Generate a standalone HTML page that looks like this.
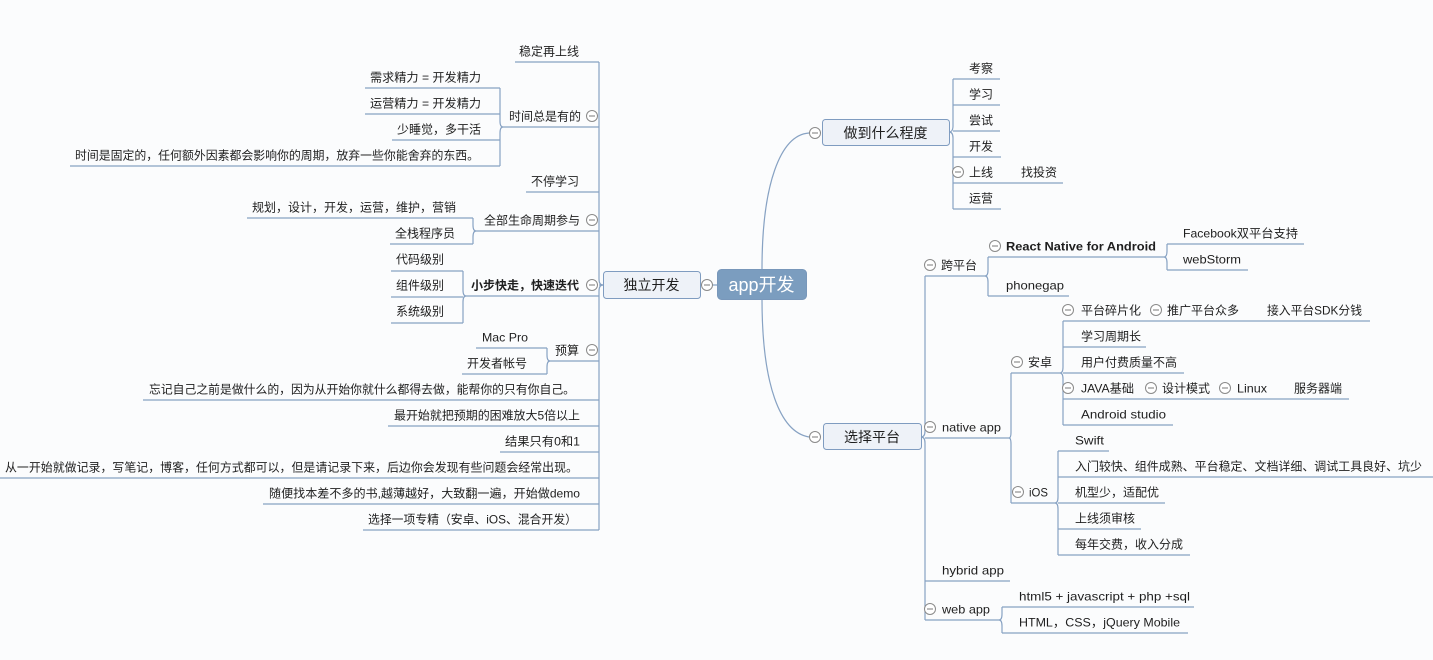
<!DOCTYPE html>
<html>
<head>
<meta charset="utf-8">
<style>
html,body{margin:0;padding:0;background:#fbfcfd;}
svg{display:block;}
text{font-family:"Liberation Sans","Noto Sans CJK SC",sans-serif;font-size:12px;fill:#1e1e1e;}
.ln{fill:none;stroke:#87a2c3;stroke-width:1.2;}
.c circle{fill:#fff;stroke:#8a8a8a;stroke-width:1;}
.c line{stroke:#7a7a7a;stroke-width:1;}
.b{font-weight:bold;}
</style>
</head>
<body>
<svg width="1433" height="660" viewBox="0 0 1433 660" xmlns="http://www.w3.org/2000/svg">
<rect width="1433" height="660" fill="#fbfcfd"/>

<!-- ===== connectors LEFT ===== -->
<g class="ln">
  <!-- main left trunk -->
  <path d="M599,62 L599,279 Q599,285 603,285 Q599,285 599,291 L599,530"/>
  <path d="M603,285 L599,285"/>
  <!-- level-2 underlines -->
  <path d="M515,62 H599"/>
  <path d="M503,127 H599"/>
  <path d="M526,192 H599"/>
  <path d="M476,231 H599"/>
  <path d="M466,296 H599"/>
  <path d="M550,361 H599"/>
  <path d="M143,400 H599"/>
  <path d="M388,426 H599"/>
  <path d="M500,452 H599"/>
  <path d="M0,478 H599"/>
  <path d="M263,504 H599"/>
  <path d="M363,530 H599"/>
  <!-- 时间总是有的 bracket -->
  <path d="M500,88 L500,121 Q500,127 503,127 Q500,127 500,133 L500,166"/>
  <path d="M365,88 H500"/>
  <path d="M365,114 H500"/>
  <path d="M392,140 H500"/>
  <path d="M70,166 H500"/>
  <!-- 全部生命周期参与 bracket -->
  <path d="M473,218 L473,225 Q473,231 476,231 Q473,231 473,237 L473,244"/>
  <path d="M247,218 H473"/>
  <path d="M390,244 H473"/>
  <!-- 小步快走 bracket -->
  <path d="M463,271 L463,290 Q463,296 466,296 Q463,296 463,302 L463,323"/>
  <path d="M391,271 H463"/>
  <path d="M391,297 H463"/>
  <path d="M391,323 H463"/>
  <!-- 预算 bracket -->
  <path d="M547,348 L547,355 Q547,361 550,361 Q547,361 547,367 L547,374"/>
  <path d="M476,348 H547"/>
  <path d="M462,374 H547"/>

  <!-- center links -->
  <path d="M700,285 H717"/>
  <path d="M762,269 C762,185 780,135 809,133"/>
  <path d="M762,299 C762,385 780,432 809,437"/>

  <!-- ===== RIGHT ===== -->
  <!-- 做到什么程度 trunk -->
  <path d="M953,79 L953,126 Q953,132 949,132 Q953,132 953,138 L953,209"/>
  <path d="M953,79 H1000"/>
  <path d="M953,105 H1000"/>
  <path d="M953,131 H1000"/>
  <path d="M953,157 H1001"/>
  <path d="M953,183 H1063"/>
  <path d="M953,209 H1001"/>

  <!-- 选择平台 trunk -->
  <path d="M925,276 L925,431 Q925,437 921,437 Q925,437 925,443 L925,620"/>
  <path d="M925,276 H985"/>
  <path d="M925,438 H1009"/>
  <path d="M925,581 H1010"/>
  <path d="M925,620 H999"/>

  <!-- 跨平台 bracket -->
  <path d="M988,257 L988,270 Q988,276 985,276 Q988,276 988,282 L988,296"/>
  <path d="M988,257 H1164"/>
  <path d="M988,296 H1069"/>
  <!-- RN bracket -->
  <path d="M1167,244 L1167,251 Q1167,257 1164,257 Q1167,257 1167,263 L1167,270"/>
  <path d="M1167,244 H1304"/>
  <path d="M1167,270 H1248"/>

  <!-- native app bracket -->
  <path d="M1011,373 L1011,432 Q1011,438 1009,438 Q1011,438 1011,444 L1011,503"/>
  <path d="M1011,373 H1060"/>
  <path d="M1011,503 H1055"/>

  <!-- 安卓 bracket -->
  <path d="M1063,321 L1063,367 Q1063,373 1060,373 Q1063,373 1063,379 L1063,425"/>
  <path d="M1063,321 H1370"/>
  <path d="M1063,347 H1146"/>
  <path d="M1063,373 H1184"/>
  <path d="M1063,399 H1349"/>
  <path d="M1063,425 H1173"/>

  <!-- iOS bracket -->
  <path d="M1058,451 L1058,497 Q1058,503 1055,503 Q1058,503 1058,509 L1058,555"/>
  <path d="M1058,451 H1109"/>
  <path d="M1058,477 H1433"/>
  <path d="M1058,503 H1165"/>
  <path d="M1058,529 H1141"/>
  <path d="M1058,555 H1190"/>

  <!-- web app bracket -->
  <path d="M1002,607 L1002,614 Q1002,620 999,620 Q1002,620 1002,626 L1002,633"/>
  <path d="M1002,607 H1194"/>
  <path d="M1002,633 H1188"/>
</g>

<!-- ===== nodes ===== -->
<rect x="717.5" y="269.5" width="89" height="30" rx="4" fill="#7b9dbf" stroke="#7897ba"/>
<text x="761.5" y="291" text-anchor="middle" style="font-size:18px;fill:#ffffff;">app开发</text>

<rect x="603.5" y="271.5" width="97" height="27" rx="3" fill="#eef2f8" stroke="#7f9cc0"/>
<text x="651.5" y="290" text-anchor="middle" style="font-size:14px;">独立开发</text>

<rect x="822.5" y="119.5" width="127" height="26" rx="3" fill="#eef2f8" stroke="#7f9cc0"/>
<text x="885.5" y="138" text-anchor="middle" style="font-size:14px;">做到什么程度</text>

<rect x="823.5" y="423.5" width="98" height="26" rx="3" fill="#eef2f8" stroke="#7f9cc0"/>
<text x="872" y="442" text-anchor="middle" style="font-size:14px;">选择平台</text>

<!-- ===== LEFT texts ===== -->
<g text-anchor="end">
  <text x="579" y="55.5">稳定再上线</text>
  <text x="481" y="81.5" textLength="111" lengthAdjust="spacingAndGlyphs">需求精力 = 开发精力</text>
  <text x="481" y="107.5" textLength="111" lengthAdjust="spacingAndGlyphs">运营精力 = 开发精力</text>
  <text x="481" y="133.5">少睡觉，多干活</text>
  <text x="479" y="159.5" textLength="404" lengthAdjust="spacingAndGlyphs">时间是固定的，任何额外因素都会影响你的周期，放弃一些你能舍弃的东西。</text>
  <text x="581" y="120.5">时间总是有的</text>
  <text x="579" y="185.5">不停学习</text>
  <text x="456" y="211.5">规划，设计，开发，运营，维护，营销</text>
  <text x="455" y="237.5">全栈程序员</text>
  <text x="580" y="224.5">全部生命周期参与</text>
  <text x="444" y="263.5">代码级别</text>
  <text x="444" y="289.5">组件级别</text>
  <text x="444" y="315.5">系统级别</text>
  <text x="579" y="289.5" class="b">小步快走，快速迭代</text>
  <text x="528" y="341.5" textLength="46" lengthAdjust="spacingAndGlyphs">Mac Pro</text>
  <text x="527" y="367.5">开发者帐号</text>
  <text x="579" y="354.5">预算</text>
  <text x="575" y="393.5" textLength="426" lengthAdjust="spacingAndGlyphs">忘记自己之前是做什么的，因为从开始你就什么都得去做，能帮你的只有你自己。</text>
  <text x="580" y="419.5" textLength="186" lengthAdjust="spacingAndGlyphs">最开始就把预期的困难放大5倍以上</text>
  <text x="580" y="445.5" textLength="75" lengthAdjust="spacingAndGlyphs">结果只有0和1</text>
  <text x="578" y="471.5" textLength="573" lengthAdjust="spacingAndGlyphs">从一开始就做记录，写笔记，博客，任何方式都可以，但是请记录下来，后边你会发现有些问题会经常出现。</text>
  <text x="580" y="497.5" textLength="311" lengthAdjust="spacingAndGlyphs">随便找本差不多的书,越薄越好，大致翻一遍，开始做demo</text>
  <text x="577" y="523.5" textLength="209" lengthAdjust="spacingAndGlyphs">选择一项专精（安卓、iOS、混合开发）</text>
</g>

<!-- ===== RIGHT texts ===== -->
<g>
  <text x="969" y="72.5">考察</text>
  <text x="969" y="98.5">学习</text>
  <text x="969" y="124.5">尝试</text>
  <text x="969" y="150.5">开发</text>
  <text x="969" y="176.5">上线</text>
  <text x="1021" y="176.5">找投资</text>
  <text x="969" y="202.5">运营</text>

  <text x="941" y="269.5">跨平台</text>
  <text x="1006" y="250.5" class="b" textLength="150" lengthAdjust="spacingAndGlyphs">React Native for Android</text>
  <text x="1183" y="237.5" textLength="115" lengthAdjust="spacingAndGlyphs">Facebook双平台支持</text>
  <text x="1183" y="263.5" textLength="58" lengthAdjust="spacingAndGlyphs">webStorm</text>
  <text x="1006" y="289.5" textLength="58" lengthAdjust="spacingAndGlyphs">phonegap</text>

  <text x="942" y="431.5" textLength="59" lengthAdjust="spacingAndGlyphs">native app</text>
  <text x="1028" y="366.5">安卓</text>
  <text x="1081" y="314.5">平台碎片化</text>
  <text x="1167" y="314.5">推广平台众多</text>
  <text x="1267" y="314.5" textLength="95" lengthAdjust="spacingAndGlyphs">接入平台SDK分钱</text>
  <text x="1081" y="340.5">学习周期长</text>
  <text x="1081" y="366.5">用户付费质量不高</text>
  <text x="1081" y="392.5" textLength="53" lengthAdjust="spacingAndGlyphs">JAVA基础</text>
  <text x="1162" y="392.5">设计模式</text>
  <text x="1237" y="392.5" textLength="30" lengthAdjust="spacingAndGlyphs">Linux</text>
  <text x="1294" y="392.5">服务器端</text>
  <text x="1081" y="418.5" textLength="85" lengthAdjust="spacingAndGlyphs">Android studio</text>

  <text x="1029" y="496.5" textLength="19" lengthAdjust="spacingAndGlyphs">iOS</text>
  <text x="1075" y="444.5" textLength="29" lengthAdjust="spacingAndGlyphs">Swift</text>
  <text x="1075" y="470.5" textLength="347" lengthAdjust="spacingAndGlyphs">入门较快、组件成熟、平台稳定、文档详细、调试工具良好、坑少</text>
  <text x="1075" y="496.5">机型少，适配优</text>
  <text x="1075" y="522.5">上线须审核</text>
  <text x="1075" y="548.5">每年交费，收入分成</text>

  <text x="942" y="574.5" textLength="62" lengthAdjust="spacingAndGlyphs">hybrid app</text>
  <text x="942" y="613.5" textLength="48" lengthAdjust="spacingAndGlyphs">web app</text>
  <text x="1019" y="600.5" textLength="171" lengthAdjust="spacingAndGlyphs">html5 + javascript + php +sql</text>
  <text x="1019" y="626.5" textLength="161" lengthAdjust="spacingAndGlyphs">HTML，CSS，jQuery Mobile</text>
</g>

<!-- ===== collapse circles ===== -->
<g class="c">
  <circle cx="707" cy="285" r="5.5"/><line x1="704" y1="285" x2="710" y2="285"/>
  <circle cx="592" cy="116" r="5.5"/><line x1="589" y1="116" x2="595" y2="116"/>
  <circle cx="592" cy="220" r="5.5"/><line x1="589" y1="220" x2="595" y2="220"/>
  <circle cx="592" cy="285" r="5.5"/><line x1="589" y1="285" x2="595" y2="285"/>
  <circle cx="592" cy="350" r="5.5"/><line x1="589" y1="350" x2="595" y2="350"/>

  <circle cx="815" cy="133" r="5.5"/><line x1="812" y1="133" x2="818" y2="133"/>
  <circle cx="815" cy="437" r="5.5"/><line x1="812" y1="437" x2="818" y2="437"/>
  <circle cx="958" cy="172" r="5.5"/><line x1="955" y1="172" x2="961" y2="172"/>

  <circle cx="930" cy="265" r="5.5"/><line x1="927" y1="265" x2="933" y2="265"/>
  <circle cx="995" cy="246" r="5.5"/><line x1="992" y1="246" x2="998" y2="246"/>
  <circle cx="930" cy="427" r="5.5"/><line x1="927" y1="427" x2="933" y2="427"/>
  <circle cx="1017" cy="362" r="5.5"/><line x1="1014" y1="362" x2="1020" y2="362"/>
  <circle cx="1068" cy="310" r="5.5"/><line x1="1065" y1="310" x2="1071" y2="310"/>
  <circle cx="1156" cy="310" r="5.5"/><line x1="1153" y1="310" x2="1159" y2="310"/>
  <circle cx="1068" cy="388" r="5.5"/><line x1="1065" y1="388" x2="1071" y2="388"/>
  <circle cx="1151" cy="388" r="5.5"/><line x1="1148" y1="388" x2="1154" y2="388"/>
  <circle cx="1225" cy="388" r="5.5"/><line x1="1222" y1="388" x2="1228" y2="388"/>
  <circle cx="1018" cy="492" r="5.5"/><line x1="1015" y1="492" x2="1021" y2="492"/>
  <circle cx="930" cy="609" r="5.5"/><line x1="927" y1="609" x2="933" y2="609"/>
</g>
</svg>
</body>
</html>
